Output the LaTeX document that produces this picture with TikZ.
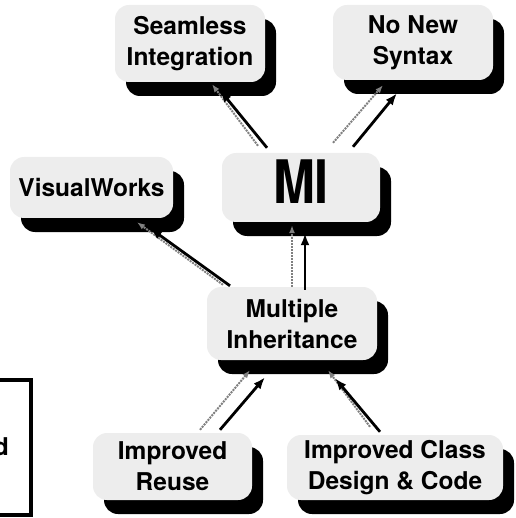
\documentclass[tikz,border=0pt]{standalone}
\usepackage{fontspec}
\setmainfont{TeX Gyre Heros}
\usepackage{graphicx}
\usetikzlibrary{shadows,arrows.meta}
\begin{document}
\begin{tikzpicture}[x=1pt,y=-1pt,
  box/.style={fill=black!7, rounded corners=14pt, inner sep=0pt, align=center,
     font=\bfseries\fontsize{24.5}{31}\selectfont,
     drop shadow={shadow xshift=11pt, shadow yshift=-14pt, fill=black, opacity=1}},
  conn/.style={line width=2.8pt, black, -{Latex[length=12pt,width=9pt]}},
  ghost/.style={line width=2pt, black!50, densely dotted, -{Latex[length=8pt,width=6pt]}},
]
\useasboundingbox (0,0) rectangle (515,518);
% partial box on the left
\draw[line width=4pt] (-10,380) -- (30.5,380) -- (30.5,515) -- (-10,515);
\node[font=\bfseries\fontsize{24.5}{31}\selectfont, anchor=base east, inner sep=0pt] (dtext) at (9,455) {d};
% boxes
\node[box, minimum width=150pt, minimum height=77pt] (seam) at (190,43.5) {Seamless\\Integration};
\node[box, minimum width=160pt, minimum height=75pt] (nonew) at (413,42.5) {No New\\Syntax};
\node[box, minimum width=163pt, minimum height=61pt] (vw) at (91.5,187.5) {VisualWorks};
\node[box, minimum width=158pt, minimum height=69pt, text depth=12pt,
      font=\bfseries\fontsize{60}{60}\selectfont] (mi) at (301,187.5) {\scalebox{0.84}[1]{MI}};
\node[box, minimum width=170pt, minimum height=73pt] (mult) at (292,323.5) {Multiple\\Inheritance};
\node[box, minimum width=159pt, minimum height=67pt] (reuse) at (172.5,466.5) {Improved\\Reuse};
\node[box, minimum width=216pt, minimum height=65pt] (cls) at (395,467.5) {Improved Class\\Design \& Code};
% connectors: MI -> Seamless
\draw[ghost] ([xshift=-43pt,yshift=7pt]mi.north) -- ([xshift=22pt,yshift=-2pt]seam.south);
\draw[conn] ([xshift=-34pt,yshift=5pt]mi.north) -- ([xshift=30pt,yshift=-8pt]seam.south);
% MI -> No New Syntax
\draw[ghost] ([xshift=32pt,yshift=10pt]mi.north) -- ([xshift=-30pt,yshift=-5pt]nonew.south);
\draw[conn] ([xshift=52pt,yshift=6pt]mi.north) -- ([xshift=-16pt,yshift=-13pt]nonew.south);
% Multiple -> VisualWorks
\draw[ghost] ([xshift=-69pt,yshift=2pt]mult.north) -- ([xshift=45.5pt,yshift=-4pt]vw.south);
\draw[conn] ([xshift=-62pt,yshift=1pt]mult.north) -- ([xshift=58.5pt,yshift=-10pt]vw.south);
% Multiple -> MI
\draw[ghost] (mult.north) -- ([xshift=-9pt,yshift=-3pt]mi.south);
\draw[conn] ([xshift=13pt,yshift=-3pt]mult.north) -- ([xshift=4pt,yshift=-11pt]mi.south);
% Reuse -> Multiple
\draw[ghost] ([xshift=27.5pt,yshift=3pt]reuse.north) -- ([xshift=-42pt,yshift=-10pt]mult.south);
\draw[conn] ([xshift=47.5pt,yshift=3pt]reuse.north) -- ([xshift=-27pt,yshift=-17pt]mult.south);
% Class -> Multiple
\draw[ghost] ([xshift=-25pt,yshift=8pt]cls.north) -- ([xshift=36pt,yshift=-10pt]mult.south);
\draw[conn] ([xshift=-15pt,yshift=3pt]cls.north) -- ([xshift=43pt,yshift=-18pt]mult.south);
\end{tikzpicture}
\end{document}
